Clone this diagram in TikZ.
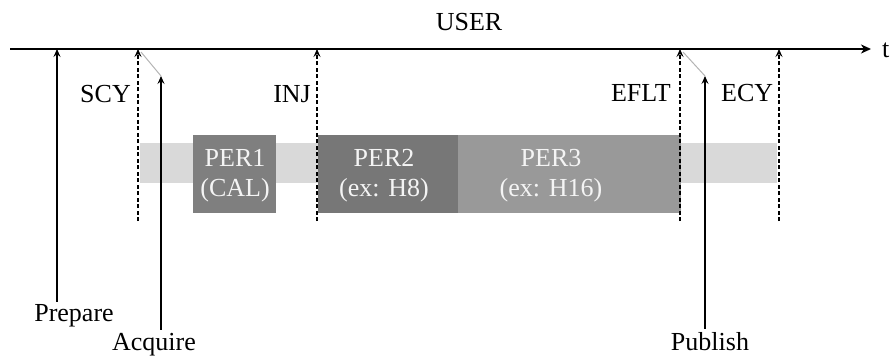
\documentclass[tikz,border=0pt]{standalone}
\usepackage{fontspec}
\setmainfont{Liberation Serif}
\usetikzlibrary{arrows.meta}
\definecolor{bandgray}{HTML}{D9D9D9}
\definecolor{pera}{HTML}{7F7F7F}
\definecolor{perb}{HTML}{777777}
\definecolor{perc}{HTML}{999999}
\definecolor{linkgray}{HTML}{B4B4B4}
\definecolor{pertext}{HTML}{F4F4F4}

\begin{document}
\begin{tikzpicture}[x=1pt, y=-1pt,
                line cap=butt, line join=miter,
                lbl/.style={font=\fontsize{26}{30}\selectfont, inner sep=0pt},
                pertxt/.style={lbl, text=pertext, align=center},
                perbox/.style={fill=#1, minimum height=78pt, inner sep=0pt, anchor=north west},
                evtip/.style={-{Stealth[length=8pt, width=7pt, inset=3pt]}},
                event/.style={evtip, black, line width=1.6pt},
                cyc/.style={event, dash pattern=on 4pt off 2.5pt}]
                \useasboundingbox (0,0) rectangle (893,356);
                \def\yaxis{49}
                \def\ydash{221}
                \def\yfree{76}

                % time axis
                \coordinate (axL) at (10,\yaxis);
                \coordinate (axR) at (871,\yaxis);
                \draw[line width=2pt, -{Stealth[length=10pt, width=9pt, inset=3pt]}] (axL) -- (axR);
                \node[lbl, anchor=base west] (t) at (882,57) {t};
                \node[lbl, anchor=base] (user) at (469,30) {USER};

                % band and periods
                \node[fill=bandgray, minimum width=637pt, minimum height=40pt,
                      inner sep=0pt, anchor=north west] (band) at (140,143) {};
                \node[perbox=pera, minimum width=83pt] (per1) at (193,135) {};
                \node[perbox=perb, minimum width=140pt] (per2) at (318,135) {};
                \node[perbox=perc, minimum width=223pt] (per3) at (458,135) {};
                \node[pertxt] (per1txt) at (235,176) {PER1\\(CAL)};
                \node[pertxt] (per2txt) at (384,176) {PER2\\(ex: H8)};
                \node[pertxt] (per3txt) at (551,176) {PER3\\(ex: H16)};

                % cycle marks (dashed)
                \foreach \name/\xx in {scy/138, inj/317, eflt/680, ecy/779}{
                    \coordinate (\name T) at (\xx,\yaxis);
                    \coordinate (\name B) at (\xx,\ydash);
                    \draw[cyc] (\name B) -- (\name T);
                }
                \node[lbl, anchor=base east] (scy) at (131,102) {SCY};
                \node[lbl, anchor=base east] (inj) at (311,102) {INJ};
                \node[lbl, anchor=base east] (eflt) at (671,101) {EFLT};
                \node[lbl, anchor=base west] (ecy) at (721,101) {ECY};

                % user actions
                \node[lbl, anchor=base] (prepare) at (74,321) {Prepare};
                \node[lbl, anchor=base] (acquire) at (154,350) {Acquire};
                \node[lbl, anchor=base] (publish) at (710,350) {Publish};
                \coordinate (prepT) at (57,\yaxis);
                \coordinate (acqT) at (161,\yfree);
                \coordinate (pubT) at (705,\yfree);
                \draw[event, shorten <=2pt] (prepare.north -| prepT) -- (prepT);
                \draw[event, shorten <=3pt] (acquire.north -| acqT) -- (acqT);
                \draw[event, shorten <=3pt] (publish.north -| pubT) -- (pubT);

                % links from cycle marks
                \draw[linkgray, line width=1pt] (scyT) ++(3,3) -- (acqT);
                \draw[linkgray, line width=1pt] (efltT) ++(3,3) -- (pubT);
\end{tikzpicture}
\end{document}
